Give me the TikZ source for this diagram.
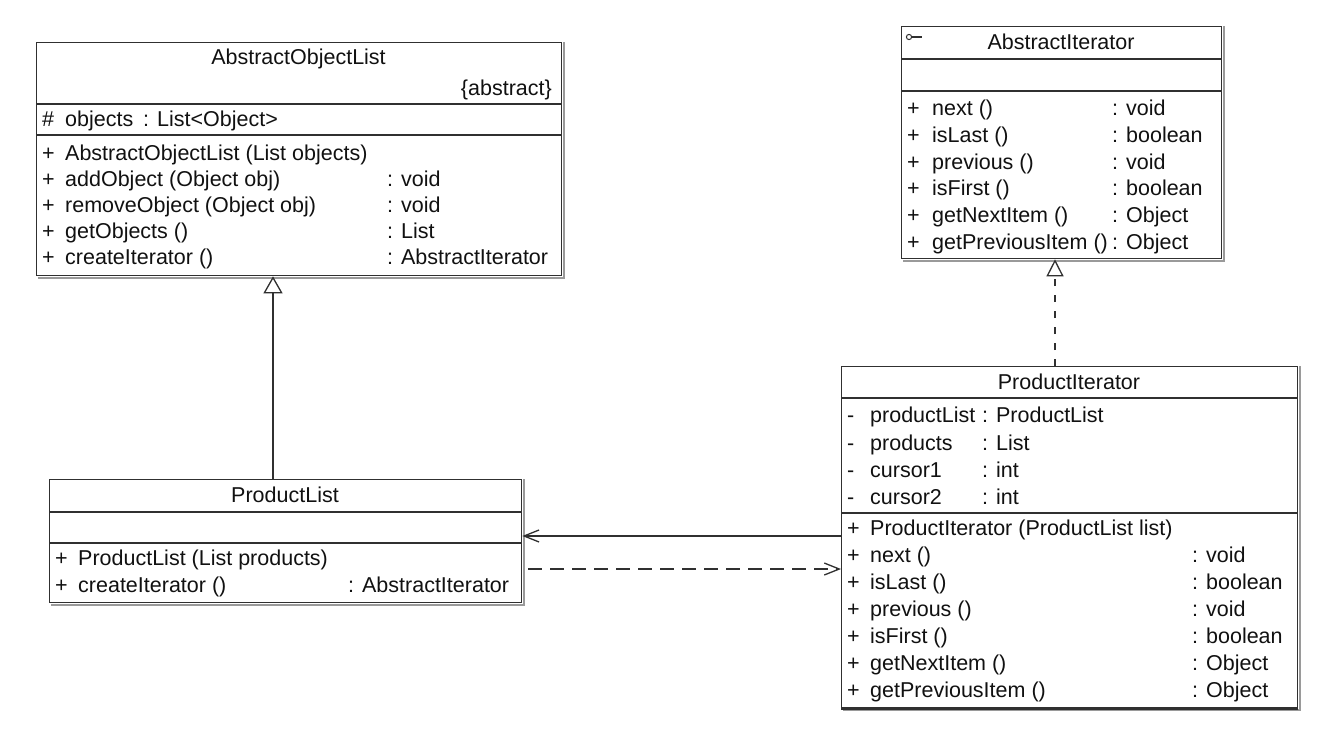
\documentclass[tikz,border=0pt]{standalone}
\usepackage{fontspec}
\setmainfont{Liberation Sans}
\usetikzlibrary{arrows.meta}
\definecolor{linec}{HTML}{303030}
\definecolor{txtc}{HTML}{111111}
\definecolor{shadc}{HTML}{9A9A9A}
\tikzset{
  txt/.style={font=\fontsize{21.5}{26}\selectfont, text=txtc, inner sep=0pt},
  cell/.style={txt, anchor=base west},
  ttl/.style={txt, anchor=base},
  cls/.style={draw=linec, line width=1.3pt, fill=white, anchor=north west, inner sep=0pt},
  shd/.style={draw=shadc, line width=1.6pt},
  div/.style={draw=linec, line width=1.2pt},
  gen/.style={draw=linec, line width=1.3pt, -{Triangle[open, length=17pt, width=19pt]}},
  real/.style={draw=linec, line width=1.3pt, dash pattern=on 7pt off 9pt, -{Triangle[open, length=17pt, width=17pt]}},
  assoc/.style={draw=linec, line width=1.3pt, -{Straight Barb[length=15pt, width=12pt]}},
  dep/.style={draw=linec, line width=1.3pt, dash pattern=on 14pt off 8pt, -{Straight Barb[length=15pt, width=12pt]}},
}
\newcommand{\cellat}[4]{\node[cell] (#1) at (#2,#3+7.5) {#4};}
\newcommand{\ttlat}[4]{\node[ttl] (#1) at (#2,#3+7.5) {#4};}
\newcommand{\shadowof}[1]{\draw[shd] ([shift={(1.6pt,-0.2pt)}]#1.north east) -- ([shift={(1.6pt,-1.6pt)}]#1.south east) -- ([shift={(1.6pt,-1.6pt)}]#1.south west);}
\begin{document}
\begin{tikzpicture}[x=1pt, y=-1pt]
\useasboundingbox[fill=white] (0,0) rectangle (1334,744);

% ---------------- AbstractObjectList ----------------
\node[cls, minimum width=525pt, minimum height=233pt] (aol) at (36,42) {};
\shadowof{aol}
\draw[div] (aol.west |- 0,104) -- (aol.east |- 0,104);
\draw[div] (aol.west |- 0,135) -- (aol.east |- 0,135);
\ttlat{aolt}{298.5}{57}{AbstractObjectList}
\node[txt, anchor=base east] (aola) at (552,95.5) {\{abstract\}};
\cellat{aoa1}{42}{119}{\#}
\cellat{aoa2}{65}{119}{objects}
\cellat{aoa3}{143}{119}{: List<Object>}
\cellat{aom1s}{42}{153}{+}
\cellat{aom1n}{65}{153}{AbstractObjectList (List objects)}
\cellat{aom2s}{42}{179}{+}
\cellat{aom2n}{65}{179}{addObject (Object obj)}
\cellat{aom2t}{387}{179}{: void}
\cellat{aom3s}{42}{205}{+}
\cellat{aom3n}{65}{205}{removeObject (Object obj)}
\cellat{aom3t}{387}{205}{: void}
\cellat{aom4s}{42}{231}{+}
\cellat{aom4n}{65}{231}{getObjects ()}
\cellat{aom4t}{387}{231}{: List}
\cellat{aom5s}{42}{257}{+}
\cellat{aom5n}{65}{257}{createIterator ()}
\cellat{aom5t}{387}{257}{: AbstractIterator}

% ---------------- AbstractIterator ----------------
\node[cls, minimum width=320pt, minimum height=232pt] (ai) at (901,26) {};
\shadowof{ai}
\draw[div] (ai.west |- 0,59) -- (ai.east |- 0,59);
\draw[div] (ai.west |- 0,91) -- (ai.east |- 0,91);
\draw[linec, line width=1pt] (909,37) circle (2.6pt);
\draw[linec, line width=1.2pt] (911.6,37) -- (922,37);
\ttlat{ait}{1061}{42}{AbstractIterator}
\cellat{aim1s}{907}{108}{+}
\cellat{aim1n}{932}{108}{next ()}
\cellat{aim1t}{1112}{108}{: void}
\cellat{aim2s}{907}{135}{+}
\cellat{aim2n}{932}{135}{isLast ()}
\cellat{aim2t}{1112}{135}{: boolean}
\cellat{aim3s}{907}{162}{+}
\cellat{aim3n}{932}{162}{previous ()}
\cellat{aim3t}{1112}{162}{: void}
\cellat{aim4s}{907}{188}{+}
\cellat{aim4n}{932}{188}{isFirst ()}
\cellat{aim4t}{1112}{188}{: boolean}
\cellat{aim5s}{907}{215}{+}
\cellat{aim5n}{932}{215}{getNextItem ()}
\cellat{aim5t}{1112}{215}{: Object}
\cellat{aim6s}{907}{242}{+}
\cellat{aim6n}{932}{242}{getPreviousItem ()}
\cellat{aim6t}{1112}{242}{: Object}

% ---------------- ProductList ----------------
\node[cls, minimum width=472pt, minimum height=123pt] (pl) at (49,479) {};
\shadowof{pl}
\draw[div] (pl.west |- 0,512) -- (pl.east |- 0,512);
\draw[div] (pl.west |- 0,543) -- (pl.east |- 0,543);
\ttlat{plt}{285}{495}{ProductList}
\cellat{plm1s}{55}{558}{+}
\cellat{plm1n}{78}{558}{ProductList (List products)}
\cellat{plm2s}{55}{585}{+}
\cellat{plm2n}{78}{585}{createIterator ()}
\cellat{plm2t}{348}{585}{: AbstractIterator}

% ---------------- ProductIterator ----------------
\node[cls, minimum width=456pt, minimum height=341pt] (pi) at (841,366) {};
\shadowof{pi}
\draw[linec, line width=2.6pt] (pi.south west) -- (pi.south east);
\draw[div] (pi.west |- 0,398) -- (pi.east |- 0,398);
\draw[div] (pi.west |- 0,513) -- (pi.east |- 0,513);
\ttlat{pit}{1069}{382}{ProductIterator}
\cellat{pia1s}{847}{415}{-}
\cellat{pia1n}{870}{415}{productList}
\cellat{pia1t}{982}{415}{: ProductList}
\cellat{pia2s}{847}{443}{-}
\cellat{pia2n}{870}{443}{products}
\cellat{pia2t}{982}{443}{: List}
\cellat{pia3s}{847}{470}{-}
\cellat{pia3n}{870}{470}{cursor1}
\cellat{pia3t}{982}{470}{: int}
\cellat{pia4s}{847}{497}{-}
\cellat{pia4n}{870}{497}{cursor2}
\cellat{pia4t}{982}{497}{: int}
\cellat{pim1s}{847}{528}{+}
\cellat{pim1n}{870}{528}{ProductIterator (ProductList list)}
\cellat{pim2s}{847}{555}{+}
\cellat{pim2n}{870}{555}{next ()}
\cellat{pim2t}{1192}{555}{: void}
\cellat{pim3s}{847}{582}{+}
\cellat{pim3n}{870}{582}{isLast ()}
\cellat{pim3t}{1192}{582}{: boolean}
\cellat{pim4s}{847}{609}{+}
\cellat{pim4n}{870}{609}{previous ()}
\cellat{pim4t}{1192}{609}{: void}
\cellat{pim5s}{847}{636}{+}
\cellat{pim5n}{870}{636}{isFirst ()}
\cellat{pim5t}{1192}{636}{: boolean}
\cellat{pim6s}{847}{663}{+}
\cellat{pim6n}{870}{663}{getNextItem ()}
\cellat{pim6t}{1192}{663}{: Object}
\cellat{pim7s}{847}{690}{+}
\cellat{pim7n}{870}{690}{getPreviousItem ()}
\cellat{pim7t}{1192}{690}{: Object}

% ---------------- connectors ----------------
\coordinate (gx) at (273,0);
\coordinate (rx) at (1055,0);
\coordinate (ay) at (0,536);
\coordinate (dy) at (0,569);
\draw[gen] (pl.north -| gx) -- (aol.south -| gx);
\draw[real] (pi.north -| rx) -- (ai.south -| rx);
\draw[assoc] (pi.west |- ay) -- (pl.east |- ay);
\draw[dep, shorten <=6pt] (pl.east |- dy) -- (pi.west |- dy);
\end{tikzpicture}
\end{document}
